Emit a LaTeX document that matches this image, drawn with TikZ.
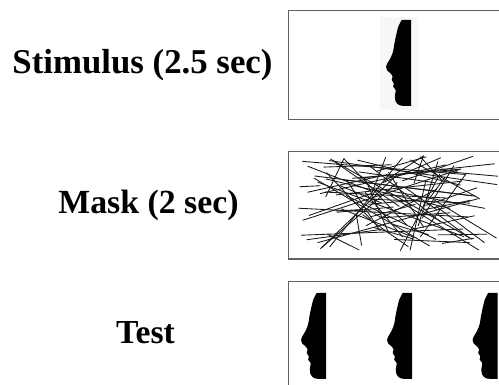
\documentclass[tikz,border=0pt]{standalone}
\usepackage{fontspec}
\setmainfont{Liberation Serif}
\begin{document}
\begin{tikzpicture}[x=1pt,y=-1pt,
  label/.style={font=\fontsize{#1}{36}\selectfont\bfseries, inner sep=0pt, anchor=base},
  panel/.style={draw=black!62, line width=1.8pt},
  maskline/.style={draw=black!90, line width=0.85pt},
  face/.pic={
    % profile facing left, origin at the top-right corner
    \fill[black] (0,0) -- (-9.3,0)
      -- plot[smooth, tension=0.55] coordinates {(-9.3,0) (-12.5,6) (-14.6,14) (-16.5,23) (-17.8,31)
         (-20.5,38) (-24,44) (-25,47) (-23.8,50.5) (-20.5,53.3) (-18.4,56.5) (-19.3,60)
         (-17.2,63.3) (-17.8,66.8) (-15.3,70) (-16,75) (-15.6,81) (-12,85) (-6,86)}
      -- (0,86) -- cycle;
  }]
\useasboundingbox (0,0) rectangle (499,385);
\clip (0,0) rectangle (499,385);
\fill[white] (0,0) rectangle (499,385);

% labels
\node[label=34.8] (stim) at (142.5,74) {Stimulus (2.5 sec)};
\node[label=33.8] (mask) at (148.5,213.3) {Mask (2 sec)};
\node[label=33.6] (test) at (145.5,343.3) {Test};

% stimulus panel
\draw[panel] (288.5,10.5) rectangle (512,119.5);
\fill[black!3] (380,17) rectangle (418,110);
\pic at (411,20) {face};

% mask panel: random straight strokes
\begin{scope}
  \clip (290,153) rectangle (499,258);
  \pgfmathsetseed{4172}
  \foreach \i in {1,...,40}{
    \pgfmathsetmacro\xa{298+140*rnd}
    \pgfmathsetmacro\ya{155+97*rnd}
    \pgfmathsetmacro\xb{360+138*rnd}
    \pgfmathsetmacro\yb{155+97*rnd}
    \draw[maskline] (\xa,\ya) -- (\xb,\yb);
  }
  \foreach \i in {1,...,40}{
    \pgfmathsetmacro\xa{298+200*rnd}
    \pgfmathsetmacro\ya{155+97*rnd}
    \pgfmathsetmacro\xb{298+200*rnd}
    \pgfmathsetmacro\yb{155+97*rnd}
    \draw[maskline] (\xa,\ya) -- (\xb,\yb);
  }
\end{scope}
\draw[panel] (288.5,151.5) rectangle (512,259);

% test panel
\draw[panel] (288.5,281.5) rectangle (512,400);
\pic at (326,293) {face};
\pic at (412,293) {face};
\pic at (497.5,293) {face};
\end{tikzpicture}
\end{document}
